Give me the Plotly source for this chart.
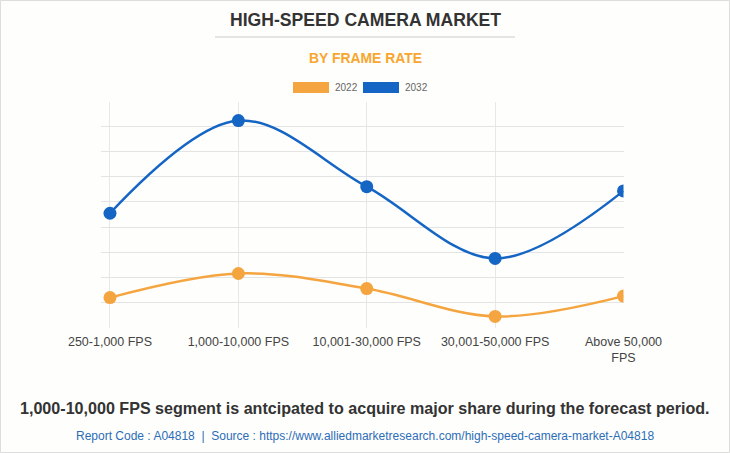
import plotly.graph_objects as go

categories = ["250-1,000 FPS", "1,000-10,000 FPS", "10,001-30,000 FPS", "30,001-50,000 FPS", "Above 50,000<br>FPS"]
values_2022 = [119, 215, 155, 44, 125]
values_2032 = [455, 824, 561, 275, 544]
series_names = ["2022", "2032"]
colors = ["#F5A540", "#1565C4"]

W, H = 730, 453

def px(x):
    return x / W

def py(y):
    return 1 - y / H

fig = go.Figure()
x_idx = list(range(len(categories)))
for name, vals, col in zip(series_names, [values_2022, values_2032], colors):
    fig.add_trace(go.Scatter(
        x=x_idx, y=vals, name=name, mode="lines+markers",
        line=dict(color=col, width=2.5, shape="spline", smoothing=1.0),
        marker=dict(color=col, size=13),
        showlegend=False, hoverinfo="x+y"))

fig.update_layout(
    width=W, height=H, autosize=False,
    margin=dict(l=0, r=0, t=0, b=0, autoexpand=False),
    paper_bgcolor="#fefefc", plot_bgcolor="#fefefc",
    font=dict(family="Liberation Sans, Arial, sans-serif", color="#444"),
    xaxis=dict(domain=[px(101), px(623.5)], range=[-0.07, 4.0], automargin=False,
               tickmode="array", tickvals=x_idx, ticktext=categories,
               showgrid=True, gridcolor="#e8e8e8", gridwidth=1,
               zeroline=False, showline=False, ticks="", ticklabelstandoff=5,
               tickfont=dict(size=12.5, color="#444"), fixedrange=True),
    yaxis=dict(domain=[py(327.5), py(101.5)], range=[0, 900], dtick=100, automargin=False,
               showgrid=True, gridcolor="#e4e4e4", gridwidth=1,
               zeroline=False, showticklabels=False, ticks="", fixedrange=True),
)

annotations = [
    dict(text="<b>HIGH-SPEED CAMERA MARKET</b>", x=0.5, y=py(20), xref="paper", yref="paper",
         showarrow=False, font=dict(size=17.6, color="#333"), xanchor="center", yanchor="middle"),
    dict(text="<b>BY FRAME RATE</b>", x=0.5, y=py(58), xref="paper", yref="paper",
         showarrow=False, font=dict(size=13.9, color="#F8A62F"), xanchor="center", yanchor="middle"),
    dict(text="<b>1,000-10,000 FPS segment is antcipated to acquire major share during the forecast period.</b>",
         x=0.5, y=py(408), xref="paper", yref="paper", showarrow=False,
         font=dict(size=16.1, color="#333"),
         xanchor="center", yanchor="middle"),
    dict(text="Report Code : A04818  |  Source : https://www.alliedmarketresearch.com/high-speed-camera-market-A04818",
         x=0.5, y=py(436), xref="paper", yref="paper", showarrow=False,
         font=dict(size=12, color="#2C6DB8"), xanchor="center", yanchor="middle"),
]
# custom legend
legend_items = [(293, 333), (363, 403)]
shapes = [
    dict(type="rect", xref="paper", yref="paper", x0=px(0.5), x1=px(729.5), y0=py(452.5), y1=py(0.5),
         line=dict(color="#dddddd", width=1), fillcolor="rgba(0,0,0,0)"),
    dict(type="line", xref="paper", yref="paper", x0=px(215), x1=px(515), y0=py(37), y1=py(37),
         line=dict(color="#cccccc", width=1)),
]
for (bx, tx), name, col in zip(legend_items, series_names, colors):
    shapes.append(dict(type="rect", xref="paper", yref="paper", x0=px(bx), x1=px(bx + 36),
                       y0=py(93), y1=py(82), fillcolor=col, line=dict(width=0)))
    annotations.append(dict(text=name, x=px(tx), y=py(87.5), xref="paper", yref="paper",
                            showarrow=False, xanchor="left", yanchor="middle",
                            font=dict(size=10, color="#666")))

fig.update_layout(annotations=annotations, shapes=shapes)
fig.write_html("out.html", config={"displayModeBar": False})
